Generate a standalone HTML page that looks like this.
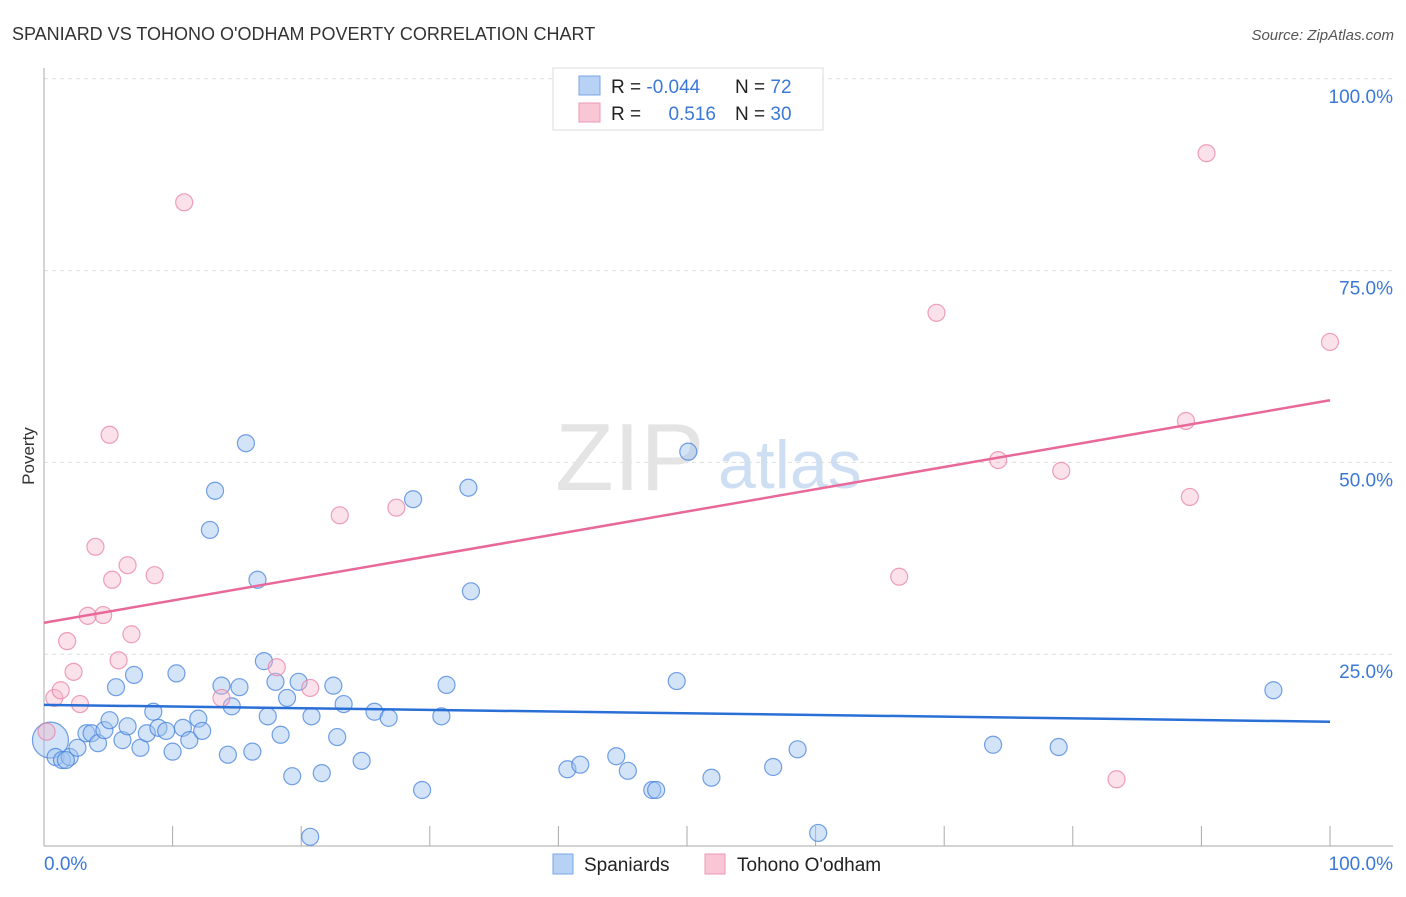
<!DOCTYPE html>
<html><head><meta charset="utf-8"><style>
body{margin:0;background:#fff;font-family:"Liberation Sans",sans-serif}
svg text{font-family:"Liberation Sans",sans-serif}
</style></head><body>
<svg id="chart" width="1406" height="892">
<text x="12" y="40" font-size="18" fill="#333">SPANIARD VS TOHONO O'ODHAM POVERTY CORRELATION CHART</text>
<text x="1394" y="40" font-size="15" font-style="italic" fill="#555" text-anchor="end">Source: ZipAtlas.com</text>
<text x="34" y="456" font-size="17" fill="#333" transform="rotate(-90 34 456)" text-anchor="middle">Poverty</text>
<g id="grid"></g>
<g id="watermark"><text x="555" y="490" font-size="96" font-family="Liberation Serif" fill="#e4e4e4">ZIP</text><text x="718" y="488" font-size="68" fill="#cfdff3">atlas</text></g>
<g id="axes"></g>
<g id="marks"></g>
<g>
<rect x="553" y="68" width="270" height="62" fill="#fff" stroke="#ddd"/>
<rect x="579" y="76" width="21" height="19" fill="#b7d2f5" stroke="#7aa6e6"/>
<rect x="579" y="103" width="21" height="19" fill="#f9c6d6" stroke="#ec9ab5"/>
<text x="611" y="93" font-size="19" fill="#222">R = <tspan fill="#3b78d8">-0.044</tspan></text>
<text x="735" y="93" font-size="19" fill="#222">N = <tspan fill="#3b78d8">72</tspan></text>
<text x="611" y="120" font-size="19" fill="#222">R = </text>
<text x="716" y="120" font-size="19" fill="#3b78d8" text-anchor="end">0.516</text>
<text x="735" y="120" font-size="19" fill="#222">N = <tspan fill="#3b78d8">30</tspan></text>
</g>
<g>
<rect x="553" y="854" width="20" height="20" fill="#b7d2f5" stroke="#7aa6e6"/>
<text x="584" y="871" font-size="19" fill="#222">Spaniards</text>
<rect x="705" y="854" width="20" height="20" fill="#f9c6d6" stroke="#ec9ab5"/>
<text x="737" y="871" font-size="19" fill="#222">Tohono O'odham</text>
</g>
</svg>
<script>
const blueX=[0.5,0.9,1.4,2.0,1.7,2.6,3.3,3.7,4.2,4.7,5.1,5.6,6.1,6.5,7.0,7.5,8.0,8.5,8.9,9.5,10.0,10.3,10.8,11.3,12.0,12.3,13.3,12.9,13.8,14.3,14.6,15.2,15.7,16.2,16.6,17.1,17.4,18.0,18.4,18.9,19.3,19.8,20.7,20.8,21.6,22.5,22.8,23.3,24.7,25.7,26.8,28.7,29.4,30.9,31.3,33.0,33.2,40.7,41.7,44.5,45.4,47.3,47.6,49.2,50.1,51.9,56.7,58.6,60.2,73.8,78.9,95.6];
const blueY=[13.8,11.6,11.2,11.6,11.2,12.8,14.7,14.7,13.4,15.1,16.4,20.7,13.8,15.6,22.3,12.8,14.7,17.5,15.4,15.0,12.3,22.5,15.4,13.8,16.6,15.0,46.3,41.2,20.9,11.9,18.2,20.7,52.5,12.3,34.7,24.1,16.9,21.4,14.5,19.3,9.1,21.4,1.2,16.9,9.5,20.9,14.2,18.5,11.1,17.5,16.7,45.2,7.3,16.9,21.0,46.7,33.2,10.0,10.6,11.7,9.8,7.3,7.3,21.5,51.4,8.9,10.3,12.6,1.7,13.2,12.9,20.3];
const pinkX=[0.2,0.8,1.3,1.8,2.3,2.8,3.4,4.0,4.6,5.1,5.3,5.8,6.5,6.8,8.6,10.9,13.8,18.1,20.7,23.0,27.4,66.5,69.4,74.2,79.1,83.4,89.1,88.8,90.4,100];
const pinkY=[14.9,19.3,20.3,26.7,22.7,18.5,30.0,39.0,30.1,53.6,34.7,24.2,36.6,27.6,35.3,83.9,19.3,23.3,20.6,43.1,44.1,35.1,69.5,50.3,48.9,8.7,45.5,55.4,90.3,65.7];
const blueTrend=[18.4,16.2];
const pinkTrend=[29.1,58.1];
const yTicks=[25,50,75,100];
const yTickLabels=["25.0%","50.0%","75.0%","100.0%"];
const xTicks=[0,10,20,30,40,50,60,70,80,90,100];
const xs=v=>44+v*12.86, ys=v=>846-v*7.672;
const NS="http://www.w3.org/2000/svg";
function mk(tag,attrs,parent){const e=document.createElementNS(NS,tag);for(const k in attrs)e.setAttribute(k,attrs[k]);parent.appendChild(e);return e;}
const grid=document.getElementById('grid'),axes=document.getElementById('axes'),marks=document.getElementById('marks');
yTicks.forEach((t,i)=>{
 const l=mk('line',{x1:44,x2:1393,y1:ys(t),y2:ys(t),stroke:'#ddd','stroke-dasharray':'4,4'},grid);
 
 
 const tx=mk('text',{x:1393,y:ys(t)+24,'font-size':19,fill:'#3b78d8','text-anchor':'end'},axes);
 tx.textContent=yTickLabels[i];
 
 
});
mk('line',{x1:44,x2:44,y1:68,y2:846,stroke:'#aaa'},axes);
mk('line',{x1:44,x2:1393,y1:846,y2:846,stroke:'#aaa'},axes);
xTicks.forEach(t=>{
 const l=mk('line',{x1:xs(t),x2:xs(t),y1:826,y2:846,stroke:'#aaa'},axes);
 
 
});
const xl0=mk('text',{x:44,y:870,'font-size':19,fill:'#3b78d8'},axes);xl0.textContent='0.0%';


const xl1=mk('text',{x:1393,y:870,'font-size':19,fill:'#3b78d8','text-anchor':'end'},axes);xl1.textContent='100.0%';


blueX.forEach((x,i)=>{
 const c=mk('circle',{cx:xs(x),cy:ys(blueY[i]),r:i===0?18:8.5,fill:'rgba(160,196,240,0.45)',stroke:'rgba(70,130,220,0.75)','stroke-width':1.2},marks);
 
 
});
pinkX.forEach((x,i)=>{
 const c=mk('circle',{cx:xs(x),cy:ys(pinkY[i]),r:8.5,fill:'rgba(246,180,200,0.4)',stroke:'rgba(232,130,165,0.75)','stroke-width':1.2},marks);
 
 
});
const bl=mk('line',{x1:xs(0),x2:xs(100),y1:ys(blueTrend[0]),y2:ys(blueTrend[1]),stroke:'#2a6fd6','stroke-width':2.5},marks);


const pl=mk('line',{x1:xs(0),x2:xs(100),y1:ys(pinkTrend[0]),y2:ys(pinkTrend[1]),stroke:'#e8689a','stroke-width':2.5},marks);


</script>
</body></html>
